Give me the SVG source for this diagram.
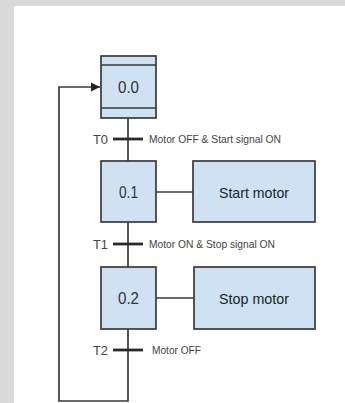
<svg xmlns="http://www.w3.org/2000/svg" width="345" height="403" viewBox="0 0 345 403">
<defs>
<style>
.box{fill:#cfe2f3;stroke:#3a3a3a;stroke-width:1.7}
.ln{fill:none;stroke:#3a3a3a;stroke-width:1.7}
.bar{stroke:#2a2a2a;stroke-width:2.8}
.step{font-family:"Liberation Sans",Arial,sans-serif;font-size:16.5px;fill:#333;text-anchor:middle}
.act{font-family:"Liberation Sans",Arial,sans-serif;font-size:15px;fill:#222;text-anchor:middle}
.tn{font-family:"Liberation Sans",Arial,sans-serif;font-size:12.5px;fill:#444}
.cond{font-family:"Liberation Sans",Arial,sans-serif;font-size:11px;fill:#444}
</style>
<marker id="ah" viewBox="0 0 10 10" refX="10" refY="5" markerWidth="5.5" markerHeight="5.5" orient="auto" markerUnits="strokeWidth">
<path d="M0,0 L10,5 L0,10 z" fill="#222"/>
</marker>
</defs>
<rect x="0" y="0" width="345" height="403" fill="#d9d9d9"/>
<rect x="14" y="6" width="331" height="397" fill="#ffffff"/>
<g id="connectors">
<path class="ln" d="M128,118 V161"/>
<path class="ln" d="M128,222 V267"/>
<path class="ln" d="M128,329 V401 H59 V87 H100" marker-end="url(#ah)"/>
<path class="ln" d="M156,192 H193"/>
<path class="ln" d="M156,298 H194"/>
</g>
<g id="step0">
<rect class="box" x="101" y="56" width="55" height="62"/>
<path class="ln" d="M101,65 H156 M101,108 H156"/>
<text class="step" x="128.5" y="93" textLength="21" lengthAdjust="spacingAndGlyphs">0.0</text>
</g>
<g id="T0">
<line class="bar" x1="113" y1="139" x2="143" y2="139"/>
<text class="tn" x="93" y="143.5" textLength="15" lengthAdjust="spacingAndGlyphs">T0</text>
<text class="cond" x="149" y="143" textLength="132" lengthAdjust="spacingAndGlyphs">Motor OFF &amp; Start signal ON</text>
</g>
<g id="step1">
<rect class="box" x="101" y="161" width="55" height="61"/>
<text class="step" x="128.5" y="198" textLength="19" lengthAdjust="spacingAndGlyphs">0.1</text>
</g>
<g id="action1">
<rect class="box" x="193" y="161" width="122" height="61"/>
<text class="act" x="254" y="197.5" textLength="70" lengthAdjust="spacingAndGlyphs">Start motor</text>
</g>
<g id="T1">
<line class="bar" x1="113" y1="244" x2="143" y2="244"/>
<text class="tn" x="93" y="248.5" textLength="15" lengthAdjust="spacingAndGlyphs">T1</text>
<text class="cond" x="149" y="248" textLength="126" lengthAdjust="spacingAndGlyphs">Motor ON &amp; Stop signal ON</text>
</g>
<g id="step2">
<rect class="box" x="101" y="267" width="55" height="62"/>
<text class="step" x="128.5" y="304" textLength="21" lengthAdjust="spacingAndGlyphs">0.2</text>
</g>
<g id="action2">
<rect class="box" x="194" y="267" width="121" height="62"/>
<text class="act" x="254" y="303.5" textLength="70" lengthAdjust="spacingAndGlyphs">Stop motor</text>
</g>
<g id="T2">
<line class="bar" x1="113" y1="350" x2="143" y2="350"/>
<text class="tn" x="93" y="354.5" textLength="15" lengthAdjust="spacingAndGlyphs">T2</text>
<text class="cond" x="152" y="354" textLength="49" lengthAdjust="spacingAndGlyphs">Motor OFF</text>
</g>
</svg>
